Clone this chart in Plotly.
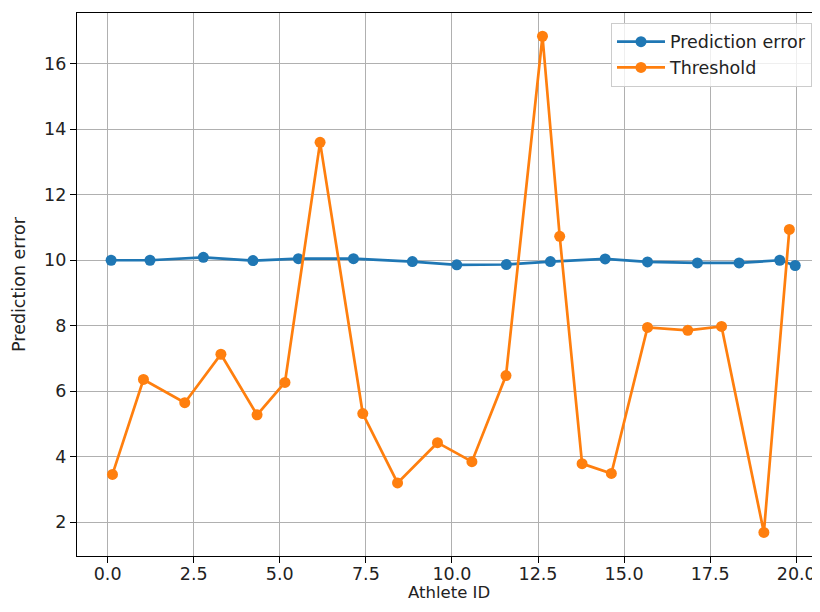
import plotly.graph_objects as go

# Prediction error series (blue)
pred_x = [0.10, 1.23, 2.78, 4.22, 5.54, 7.14, 8.85, 10.14, 11.58, 12.86, 14.45, 15.68, 17.13, 18.34, 19.52, 19.97]
pred_y = [10.00, 10.00, 10.09, 9.99, 10.05, 10.05, 9.96, 9.86, 9.87, 9.96, 10.04, 9.95, 9.92, 9.92, 10.00, 9.84]

# Threshold series (orange)
thr_x = [0.14, 1.04, 2.24, 3.29, 4.34, 5.15, 6.17, 7.41, 8.42, 9.58, 10.58, 11.57, 12.63, 13.13,
         13.78, 14.63, 15.68, 16.85, 17.83, 19.06, 19.80]
thr_y = [3.46, 6.36, 5.65, 7.13, 5.28, 6.27, 13.60, 5.32, 3.20, 4.43, 3.85, 6.48, 16.84, 10.73,
         3.79, 3.49, 7.95, 7.86, 7.98, 1.69, 10.94]

x_ticks = [0, 2.5, 5, 7.5, 10, 12.5, 15, 17.5, 20]
x_tick_labels = ["0.0", "2.5", "5.0", "7.5", "10.0", "12.5", "15.0", "17.5", "20.0"]
y_ticks = [2, 4, 6, 8, 10, 12, 14, 16]

FONT = "DejaVu Sans"
FS = 17.5
FS_XT = 16.5

fig = go.Figure()
fig.add_trace(go.Scatter(
    x=pred_x, y=pred_y, mode="lines+markers", name="Prediction error",
    line=dict(color="#1f77b4", width=2.7),
    marker=dict(color="#1f77b4", size=11),
))
fig.add_trace(go.Scatter(
    x=thr_x, y=thr_y, mode="lines+markers", name="Threshold",
    line=dict(color="#ff7f0e", width=2.7),
    marker=dict(color="#ff7f0e", size=11),
))

axis_common = dict(
    showgrid=True, gridcolor="#b0b0b0", gridwidth=1.3,
    showline=True, linecolor="#000000", linewidth=1.4,
    ticks="outside", ticklen=6, tickwidth=1.4, tickcolor="#000000",
    tickfont=dict(family=FONT, size=FS, color="#222222"),
    zeroline=False, automargin=False,
)

fig.update_layout(
    width=812, height=596,
    margin=dict(l=69, r=0, t=5, b=48),
    paper_bgcolor="white", plot_bgcolor="white",
    font=dict(family=FONT, size=FS, color="#222222"),
    xaxis=dict(
        range=[-0.89, 20.69], tickvals=x_ticks, ticktext=x_tick_labels,
        mirror=True, ticklabelstandoff=-4,
        **axis_common,
    ),
    yaxis=dict(
        range=[0.97, 17.55], tickvals=y_ticks,
        title=dict(text="Prediction error", font=dict(family=FONT, size=FS, color="#222222"), standoff=13),
        **axis_common,
    ),
    legend=dict(
        x=0.7187, y=0.982, xanchor="left", yanchor="top",
        bgcolor="rgba(255,255,255,0.8)", bordercolor="#cccccc", borderwidth=1,
        font=dict(family=FONT, size=FS, color="#222222"),
        itemwidth=48,
    ),
    showlegend=True,
    annotations=[dict(
        text="Athlete ID", xref="paper", yref="paper", x=0.5, y=-48 / 543,
        xanchor="center", yanchor="bottom", showarrow=False,
        font=dict(family=FONT, size=FS_XT, color="#222222"),
    )],
)

fig.write_html("out.html")
